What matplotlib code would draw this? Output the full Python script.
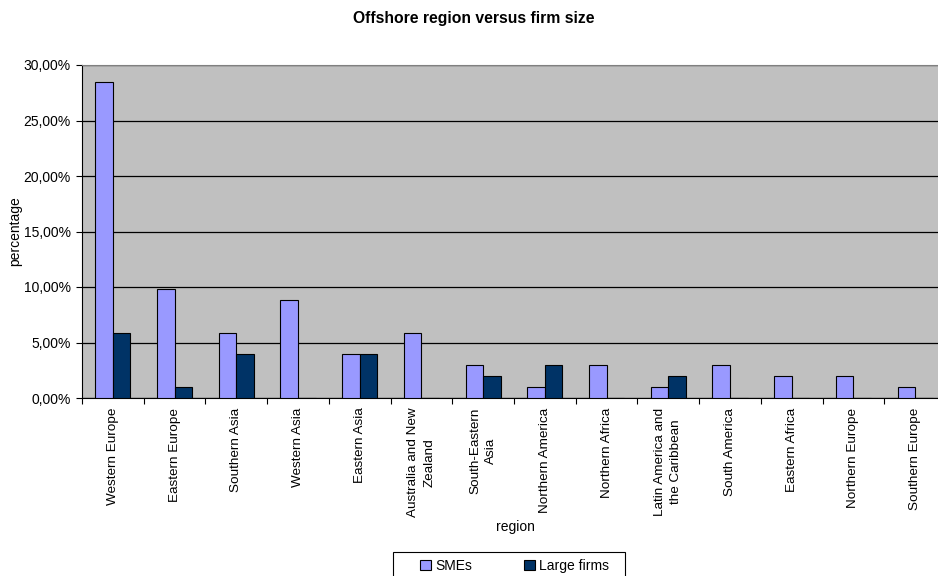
import numpy as np
import matplotlib.pyplot as plt
from matplotlib.ticker import FuncFormatter
from matplotlib.patches import Rectangle

plt.rcParams['font.family'] = ['Liberation Sans', 'DejaVu Sans']

regions = ["Western Europe", "Eastern Europe", "Southern Asia", "Western Asia",
           "Eastern Asia", "Australia and New\nZealand", "South-Eastern\nAsia",
           "Northern America", "Northern Africa", "Latin America and\nthe Caribbean",
           "South America", "Eastern Africa", "Northern Europe", "Southern Europe"]
smes = [28.43, 9.80, 5.88, 8.82, 3.92, 5.88, 2.94, 0.98, 2.94, 0.98, 2.94, 1.96, 1.96, 0.98]
large = [5.88, 0.98, 3.92, 0, 3.92, 0, 1.96, 2.94, 0, 1.96, 0, 0, 0, 0]

W, H = 938, 576
fig = plt.figure(figsize=(W/100, H/100), dpi=100)
# plot area runs past the right edge of the figure
ax = fig.add_axes([82/W, 1 - 398/H, 864/W, 333/H])
ax.set_facecolor('#c0c0c0')

x = np.arange(len(regions))
bw = 1/3.5
ax.bar(x - bw/2, smes, bw, color='#9999ff', edgecolor='black', linewidth=0.8, label='SMEs', zorder=3)
ax.bar(x + bw/2, large, bw, color='#003366', edgecolor='black', linewidth=0.8, label='Large firms', zorder=3)

ax.set_xlim(-0.5, len(regions) - 0.5)
ax.set_ylim(0, 30)
ax.set_yticks(np.arange(0, 31, 5))
ax.yaxis.set_major_formatter(FuncFormatter(lambda v, p: f"{v:.2f}%".replace('.', ',')))
ax.grid(axis='y', color='black', linewidth=0.9, zorder=1)

ax.set_xticks(np.arange(len(regions) + 1) - 0.5)
ax.set_xticklabels([])
ax.set_xticks(x, minor=True)
ax.set_xticklabels(regions, minor=True, rotation=90, fontsize=9.7, va='top', ha='center',
                   multialignment='center', linespacing=1.45)
ax.tick_params(axis='x', which='minor', length=0, pad=7)
ax.tick_params(axis='x', which='major', length=4, direction='out')
ax.tick_params(axis='y', length=4, direction='out', labelsize=10, pad=4)

for s in ['top', 'right']:
    ax.spines[s].set_color('#808080')
for s in ['left', 'bottom']:
    ax.spines[s].set_color('black')

fig.text(474/W, 1 - 18/H, "Offshore region versus firm size", ha='center', va='center',
         fontsize=11.3, fontweight='bold')
fig.text(15/W, 1 - 231/H, "percentage", rotation=90, ha='center', va='center', fontsize=10)
fig.text(515/W, 1 - 527/H, "region", ha='center', va='center', fontsize=10)

# legend box drawn separately so the side padding can be wider than the top/bottom
fig.patches.append(Rectangle((393/W, 1 - 580/H), 232/W, 28/H, transform=fig.transFigure,
                             facecolor='white', edgecolor='black', linewidth=0.8, zorder=5))
leg = fig.legend(loc='upper left', bbox_to_anchor=(420/W, 1 - 559/H), ncol=2,
                 fontsize=10, frameon=False, borderaxespad=0, borderpad=0,
                 handlelength=0.8, handleheight=0.8, handletextpad=0.3,
                 columnspacing=3.7)
leg.set_zorder(6)

plt.savefig('out.png', dpi=100)
